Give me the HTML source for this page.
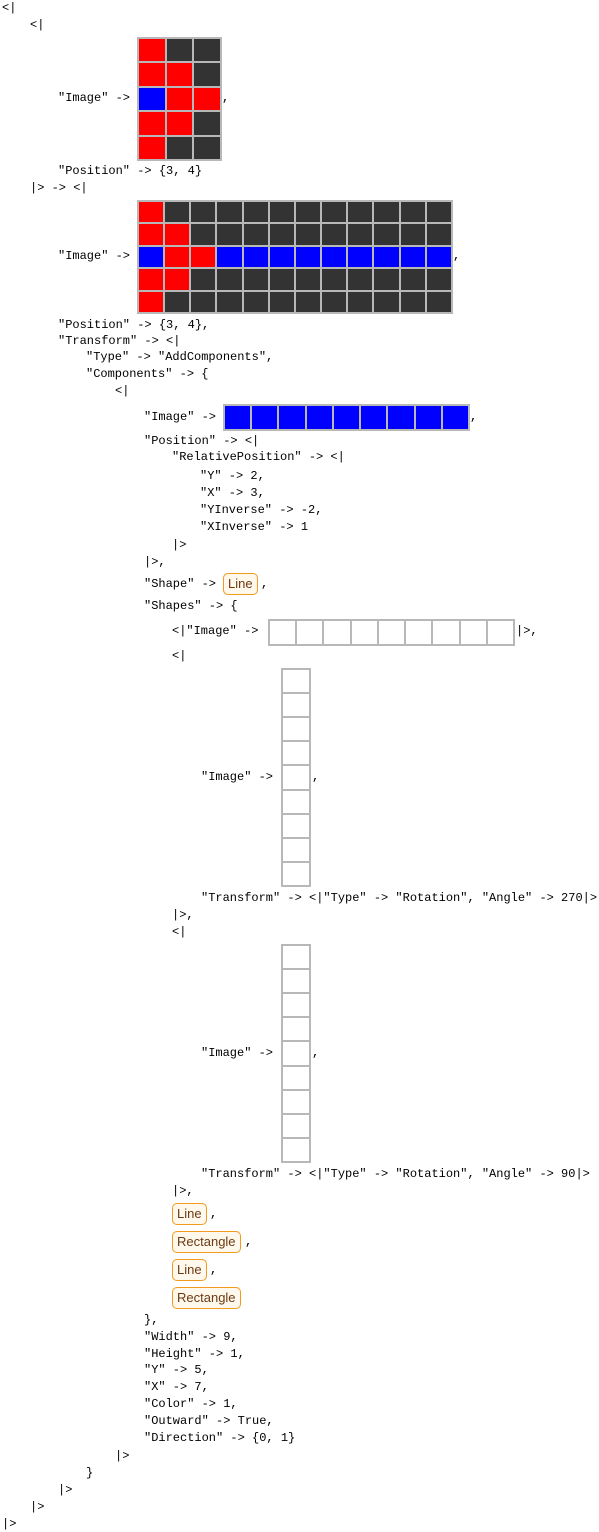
<!DOCTYPE html>
<html><head><meta charset="utf-8"><style>
body{margin:0;width:599px;height:1532px;background:#fff;position:relative;overflow:hidden;font-family:"Liberation Mono",monospace;font-size:12px;letter-spacing:0;color:#000}
.t{position:absolute;white-space:pre;line-height:16px;height:16px}
.g{position:absolute;display:grid;background:#b8b8b8;gap:2px;padding:2px;box-sizing:border-box}
.g div{background:#fff}
.b{position:absolute;border:1px solid #f39a1e;border-radius:5px;background:#fff8ec;color:#6b3a12;font-family:"Liberation Sans",sans-serif;letter-spacing:0;font-size:13px;line-height:20px;height:20px;box-sizing:content-box;padding:0 4px}
</style></head><body>
<div class="t" style="left:2px;top:0">&lt;|</div>
<div class="t" style="left:30px;top:17px">&lt;|</div>
<div class="t" style="left:58px;top:90px">"Image" -&gt;</div>
<div class="g" id="g1" style="left:137px;top:37px;width:85px;height:124px"></div>
<div class="t" style="left:222px;top:90px">,</div>
<div class="t" style="left:58px;top:163px">"Position" -&gt; {3, 4}</div>
<div class="t" style="left:30px;top:180px">|&gt; -&gt; &lt;|</div>
<div class="t" style="left:58px;top:248px">"Image" -&gt;</div>
<div class="g" id="g2" style="left:137px;top:200px;width:316px;height:114px"></div>
<div class="t" style="left:453px;top:248px">,</div>
<div class="t" style="left:58px;top:317px">"Position" -&gt; {3, 4},</div>
<div class="t" style="left:58px;top:333px">"Transform" -&gt; &lt;|</div>
<div class="t" style="left:86px;top:349px">"Type" -&gt; "AddComponents",</div>
<div class="t" style="left:86px;top:366px">"Components" -&gt; {</div>
<div class="t" style="left:115px;top:383px">&lt;|</div>
<div class="t" style="left:144px;top:409px">"Image" -&gt;</div>
<div class="g" id="g3" style="left:223px;top:404px;width:247px;height:27px"></div>
<div class="t" style="left:470px;top:409px">,</div>
<div class="t" style="left:144px;top:433px">"Position" -&gt; &lt;|</div>
<div class="t" style="left:172px;top:449px">"RelativePosition" -&gt; &lt;|</div>
<div class="t" style="left:200px;top:468px">"Y" -&gt; 2,</div>
<div class="t" style="left:200px;top:485px">"X" -&gt; 3,</div>
<div class="t" style="left:200px;top:502px">"YInverse" -&gt; -2,</div>
<div class="t" style="left:200px;top:519px">"XInverse" -&gt; 1</div>
<div class="t" style="left:172px;top:537px">|&gt;</div>
<div class="t" style="left:144px;top:554px">|&gt;,</div>
<div class="t" style="left:144px;top:576px">"Shape" -&gt;</div>
<div class="b" style="left:223px;top:573px">Line</div>
<div class="t" style="left:261px;top:576px">,</div>
<div class="t" style="left:144px;top:598px">"Shapes" -&gt; {</div>
<div class="t" style="left:172px;top:623px">&lt;|"Image" -&gt;</div>
<div class="g" id="g4" style="left:268px;top:619px;width:247px;height:27px"></div>
<div class="t" style="left:516px;top:623px">|&gt;,</div>
<div class="t" style="left:172px;top:648px">&lt;|</div>
<div class="t" style="left:201px;top:769px">"Image" -&gt;</div>
<div class="g" id="g5" style="left:281px;top:668px;width:30px;height:219px"></div>
<div class="t" style="left:312px;top:769px">,</div>
<div class="t" style="left:201px;top:890px">"Transform" -&gt; &lt;|"Type" -&gt; "Rotation", "Angle" -&gt; 270|&gt;</div>
<div class="t" style="left:172px;top:907px">|&gt;,</div>
<div class="t" style="left:172px;top:924px">&lt;|</div>
<div class="t" style="left:201px;top:1045px">"Image" -&gt;</div>
<div class="g" id="g6" style="left:281px;top:944px;width:30px;height:219px"></div>
<div class="t" style="left:312px;top:1045px">,</div>
<div class="t" style="left:201px;top:1166px">"Transform" -&gt; &lt;|"Type" -&gt; "Rotation", "Angle" -&gt; 90|&gt;</div>
<div class="t" style="left:172px;top:1183px">|&gt;,</div>
<div class="b" style="left:172px;top:1203px">Line</div><div class="t" style="left:210px;top:1206px">,</div>
<div class="b" style="left:172px;top:1231px">Rectangle</div><div class="t" style="left:245px;top:1234px">,</div>
<div class="b" style="left:172px;top:1259px">Line</div><div class="t" style="left:210px;top:1262px">,</div>
<div class="b" style="left:172px;top:1287px">Rectangle</div>
<div class="t" style="left:144px;top:1312px">},</div>
<div class="t" style="left:144px;top:1329px">"Width" -&gt; 9,</div>
<div class="t" style="left:144px;top:1346px">"Height" -&gt; 1,</div>
<div class="t" style="left:144px;top:1362px">"Y" -&gt; 5,</div>
<div class="t" style="left:144px;top:1379px">"X" -&gt; 7,</div>
<div class="t" style="left:144px;top:1396px">"Color" -&gt; 1,</div>
<div class="t" style="left:144px;top:1413px">"Outward" -&gt; True,</div>
<div class="t" style="left:144px;top:1430px">"Direction" -&gt; {0, 1}</div>
<div class="t" style="left:115px;top:1448px">|&gt;</div>
<div class="t" style="left:86px;top:1465px">}</div>
<div class="t" style="left:58px;top:1482px">|&gt;</div>
<div class="t" style="left:30px;top:1499px">|&gt;</div>
<div class="t" style="left:2px;top:1516px">|&gt;</div>
<script>
var R='#ff0000',D='#333333',B='#0000ff',W='#ffffff';
function mk(id,c,r,cols){var g=document.getElementById(id);g.style.gridTemplateColumns='repeat('+c+',1fr)';g.style.gridTemplateRows='repeat('+r+',1fr)';for(var i=0;i<c*r;i++){var d=document.createElement('div');d.style.background=cols(Math.floor(i/c),i%c);g.appendChild(d);}}
var p1=[[R,D,D],[R,R,D],[B,R,R],[R,R,D],[R,D,D]];
mk('g1',3,5,function(r,c){return p1[r][c];});
mk('g2',12,5,function(r,c){if(c<3)return p1[r][c];return r==2?B:D;});
mk('g3',9,1,function(){return B;});
mk('g4',9,1,function(){return W;});
mk('g5',1,9,function(){return W;});
mk('g6',1,9,function(){return W;});
</script>
</body></html>
